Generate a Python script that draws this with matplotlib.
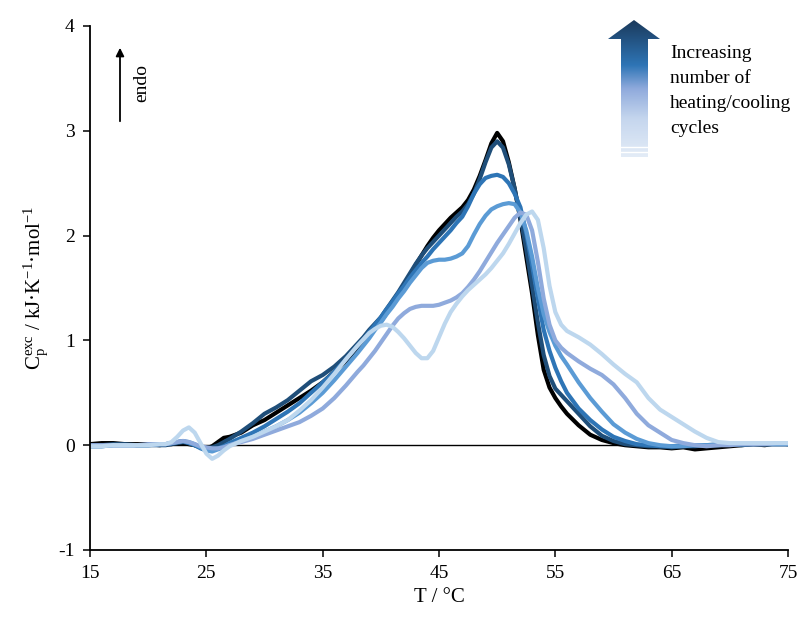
import numpy as np
import matplotlib
matplotlib.use("Agg")
import matplotlib.pyplot as plt
from matplotlib.colors import LinearSegmentedColormap
from matplotlib.patches import Polygon

plt.rcParams['font.family'] = ['Liberation Serif', 'DejaVu Serif']
plt.rcParams['mathtext.fontset'] = 'custom'
plt.rcParams['mathtext.rm'] = 'Liberation Serif'
plt.rcParams['mathtext.it'] = 'Liberation Serif:italic'
plt.rcParams['axes.unicode_minus'] = False

# temperature grid (°C) shared by all scans
temp = [15, 16, 17, 18, 19, 20, 21,
        21.5, 22, 22.5, 23, 23.5, 24, 24.5, 25, 25.5, 26, 26.5, 27,
        28, 29, 30, 31, 32, 33, 34, 35, 36, 37, 38,
        38.5, 39, 39.5, 40, 40.5, 41, 41.5, 42, 42.5, 43, 43.5, 44, 44.5, 45, 45.5, 46, 46.5, 47,
        47.5, 48, 48.5, 49, 49.5, 50, 50.5, 51, 51.5, 52, 52.5, 53, 53.5, 54, 54.5, 55, 55.5, 56,
        57, 58, 59, 60, 61, 62, 63, 64, 65, 66, 67, 68, 69, 70, 71, 72, 73, 74, 75]

# excess heat capacity (kJ/K/mol), one list per heating scan
cp_scan1 = [0.01, 0.02, 0.02, 0.01, 0.01, 0.01, 0.0,
            0.01, 0.01, 0.02, 0.02, 0.01, 0.0, -0.02, -0.03, -0.01, 0.03, 0.07, 0.08,
            0.12, 0.19, 0.24, 0.31, 0.38, 0.45, 0.52, 0.6, 0.7, 0.8, 0.92,
            0.98, 1.05, 1.11, 1.18, 1.26, 1.35, 1.43, 1.52, 1.62, 1.72, 1.81, 1.9, 1.98, 2.05, 2.11, 2.17, 2.22, 2.27,
            2.34, 2.44, 2.57, 2.72, 2.88, 2.98, 2.9, 2.7, 2.45, 2.15, 1.8, 1.45, 1.05, 0.72, 0.55, 0.45, 0.37, 0.3,
            0.19, 0.1, 0.05, 0.02, 0.0, -0.01, -0.02, -0.02, -0.03, -0.02, -0.04, -0.03, -0.02, -0.01, 0.0, 0.01, 0.0, 0.02, 0.01]
cp_scan2 = [0.0, 0.0, 0.01, 0.01, 0.0, 0.0, 0.0,
            0.0, 0.01, 0.02, 0.03, 0.02, 0.0, -0.02, -0.03, -0.02, 0.0, 0.03, 0.06,
            0.13, 0.21, 0.3, 0.36, 0.43, 0.52, 0.61, 0.67, 0.75, 0.85, 0.97,
            1.03, 1.1, 1.16, 1.22, 1.3, 1.38, 1.46, 1.55, 1.64, 1.73, 1.81, 1.88, 1.94, 2.0, 2.06, 2.12, 2.18, 2.23,
            2.3, 2.4, 2.54, 2.7, 2.84, 2.9, 2.84, 2.68, 2.45, 2.17, 1.87, 1.52, 1.17, 0.86, 0.66, 0.54, 0.48, 0.42,
            0.3, 0.18, 0.09, 0.04, 0.01, 0.0, -0.01, -0.01, -0.02, -0.01, -0.01, 0.0, 0.0, 0.01, 0.0, 0.01, 0.01, 0.01, 0.01]
cp_scan3 = [-0.01, -0.01, 0.0, 0.0, 0.0, 0.0, 0.01,
            0.01, 0.02, 0.03, 0.04, 0.02, 0.0, -0.03, -0.05, -0.05, -0.03, -0.01, 0.02,
            0.07, 0.12, 0.18, 0.25, 0.32, 0.4, 0.5, 0.6, 0.7, 0.82, 0.95,
            1.01, 1.08, 1.15, 1.22, 1.3, 1.37, 1.45, 1.52, 1.6, 1.67, 1.74, 1.8, 1.87, 1.93, 1.99, 2.05, 2.12, 2.18,
            2.28, 2.4, 2.49, 2.55, 2.57, 2.58, 2.56, 2.5, 2.4, 2.27, 2.02, 1.72, 1.4, 1.1, 0.9, 0.74, 0.61, 0.5,
            0.35, 0.24, 0.15, 0.08, 0.04, 0.01, 0.0, -0.01, -0.01, 0.0, 0.0, 0.0, 0.01, 0.01, 0.01, 0.01, 0.01, 0.01, 0.01]
cp_scan4 = [-0.01, -0.01, 0.0, 0.0, 0.0, 0.0, 0.01,
            0.01, 0.02, 0.03, 0.04, 0.03, 0.01, -0.02, -0.05, -0.06, -0.04, -0.02, 0.0,
            0.04, 0.08, 0.13, 0.18, 0.24, 0.31, 0.4, 0.5, 0.62, 0.75, 0.88,
            0.95, 1.02, 1.1, 1.17, 1.25, 1.32, 1.4, 1.47, 1.55, 1.62, 1.69, 1.74, 1.76, 1.77, 1.77, 1.78, 1.8, 1.83,
            1.9, 2.01, 2.11, 2.19, 2.25, 2.28, 2.3, 2.31, 2.3, 2.22, 2.05, 1.8, 1.5, 1.25, 1.08, 0.95, 0.85, 0.77,
            0.6, 0.45, 0.32, 0.2, 0.12, 0.06, 0.02, 0.0, -0.01, -0.01, 0.0, 0.0, 0.0, 0.01, 0.01, 0.01, 0.01, 0.01, 0.01]
cp_scan5 = [0.0, 0.0, 0.0, 0.0, 0.0, 0.01, 0.01,
            0.01, 0.02, 0.03, 0.04, 0.03, 0.01, -0.01, -0.02, -0.03, -0.03, -0.02, 0.0,
            0.03, 0.06, 0.1, 0.14, 0.18, 0.22, 0.28, 0.35, 0.45, 0.57, 0.7,
            0.76, 0.83, 0.9, 0.98, 1.06, 1.14, 1.21, 1.26, 1.3, 1.32, 1.33, 1.33, 1.33, 1.34, 1.36, 1.38, 1.41, 1.45,
            1.51, 1.58, 1.66, 1.75, 1.84, 1.93, 2.01, 2.09, 2.17, 2.22, 2.2, 2.05, 1.75, 1.4, 1.15, 1.0, 0.93, 0.88,
            0.8, 0.73, 0.67, 0.58, 0.45, 0.3, 0.19, 0.12, 0.05, 0.02, 0.0, -0.01, 0.0, 0.0, 0.01, 0.01, 0.01, 0.02, 0.02]
cp_scan6 = [-0.01, -0.01, 0.0, 0.0, 0.0, 0.0, 0.01,
            0.01, 0.03, 0.08, 0.14, 0.17, 0.12, 0.02, -0.08, -0.13, -0.1, -0.05, -0.01,
            0.04, 0.08, 0.13, 0.18, 0.24, 0.33, 0.43, 0.55, 0.68, 0.82, 0.95,
            1.01, 1.07, 1.11, 1.14, 1.15, 1.13, 1.08, 1.02, 0.95, 0.88, 0.83, 0.83, 0.9, 1.03, 1.16, 1.27, 1.35, 1.42,
            1.48, 1.53, 1.58, 1.63, 1.69, 1.76, 1.83, 1.92, 2.02, 2.12, 2.2, 2.23, 2.15, 1.88, 1.52, 1.27, 1.15, 1.09,
            1.03, 0.96, 0.87, 0.77, 0.68, 0.6, 0.45, 0.34, 0.27, 0.2, 0.13, 0.07, 0.03, 0.02, 0.02, 0.02, 0.02, 0.02, 0.02]

scans = [cp_scan1, cp_scan2, cp_scan3, cp_scan4, cp_scan5, cp_scan6]
colors = ['#000000', '#1f4e79', '#2e75b6', '#5b9bd5', '#8faadc', '#bdd7ee']

xticks = [15, 25, 35, 45, 55, 65, 75]
yticks = [-1, 0, 1, 2, 3, 4]

W, H = 808, 617
fig = plt.figure(figsize=(W / 100, H / 100), dpi=100)
ax = fig.add_axes([90 / W, 1 - 550 / H, 698 / W, 524 / H])

ax.axhline(0, color='black', lw=1.0, zorder=1)
for cp, c in zip(scans, colors):
    ax.plot(temp, cp, color=c, lw=3.0, solid_joinstyle='round', solid_capstyle='round', zorder=2)

ax.set_xlim(15, 75)
ax.set_ylim(-1, 4)
ax.set_xticks(xticks)
ax.set_yticks(yticks)
ax.tick_params(direction='out', length=5, width=1.1, labelsize=14, pad=6, colors='black')
for side in ['top', 'right']:
    ax.spines[side].set_visible(False)
for side in ['left', 'bottom']:
    ax.spines[side].set_linewidth(1.3)

ax.set_xlabel('T / °C', fontsize=15, labelpad=4)
ax.set_ylabel(r'C$_{\mathrm{p}}^{\mathrm{exc}}$ / kJ·K$^{\mathrm{-1}}$·mol$^{\mathrm{-1}}$',
              fontsize=15, labelpad=6)

# "endo" arrow (figure pixels count from the bottom)
ax.annotate('', xy=(120, H - 45), xytext=(120, H - 124), xycoords='figure pixels',
            textcoords='figure pixels',
            arrowprops=dict(arrowstyle='-|>', color='black', lw=1.3, mutation_scale=12))
fig.text(142 / W, 1 - 83 / H, 'endo', rotation=90, fontsize=14, ha='center', va='center')

# gradient arrow for the number of cycles
gax = fig.add_axes([600 / W, 1 - 162 / H, 70 / W, 145 / H])
gax.set_xlim(600, 670)
gax.set_ylim(162, 17)
gax.axis('off')
cmap = LinearSegmentedColormap.from_list('cyc', [(0.0, '#1b3a5c'), (0.33, '#2e75b6'),
                                                  (0.5, '#8faadc'), (0.72, '#c5d6ee'),
                                                  (1.0, '#e3ecf7')])
grad = np.linspace(0, 1, 256).reshape(-1, 1)
im = gax.imshow(grad, cmap=cmap, aspect='auto', extent=[600, 670, 157, 20])
arrow = Polygon([(634, 20), (608, 39), (621, 39), (621, 157), (648, 157), (648, 39), (660, 39)],
                closed=True, facecolor='none', edgecolor='none')
gax.add_patch(arrow)
im.set_clip_path(arrow)
for yy in [147, 151.5]:
    gax.plot([620, 649], [yy, yy], color='white', lw=1.0)

fig.text(670 / W, 1 - 91 / H, 'Increasing\nnumber of\nheating/cooling\ncycles',
         fontsize=14, ha='left', va='center', linespacing=1.6)

fig.savefig('out.png', dpi=100)
